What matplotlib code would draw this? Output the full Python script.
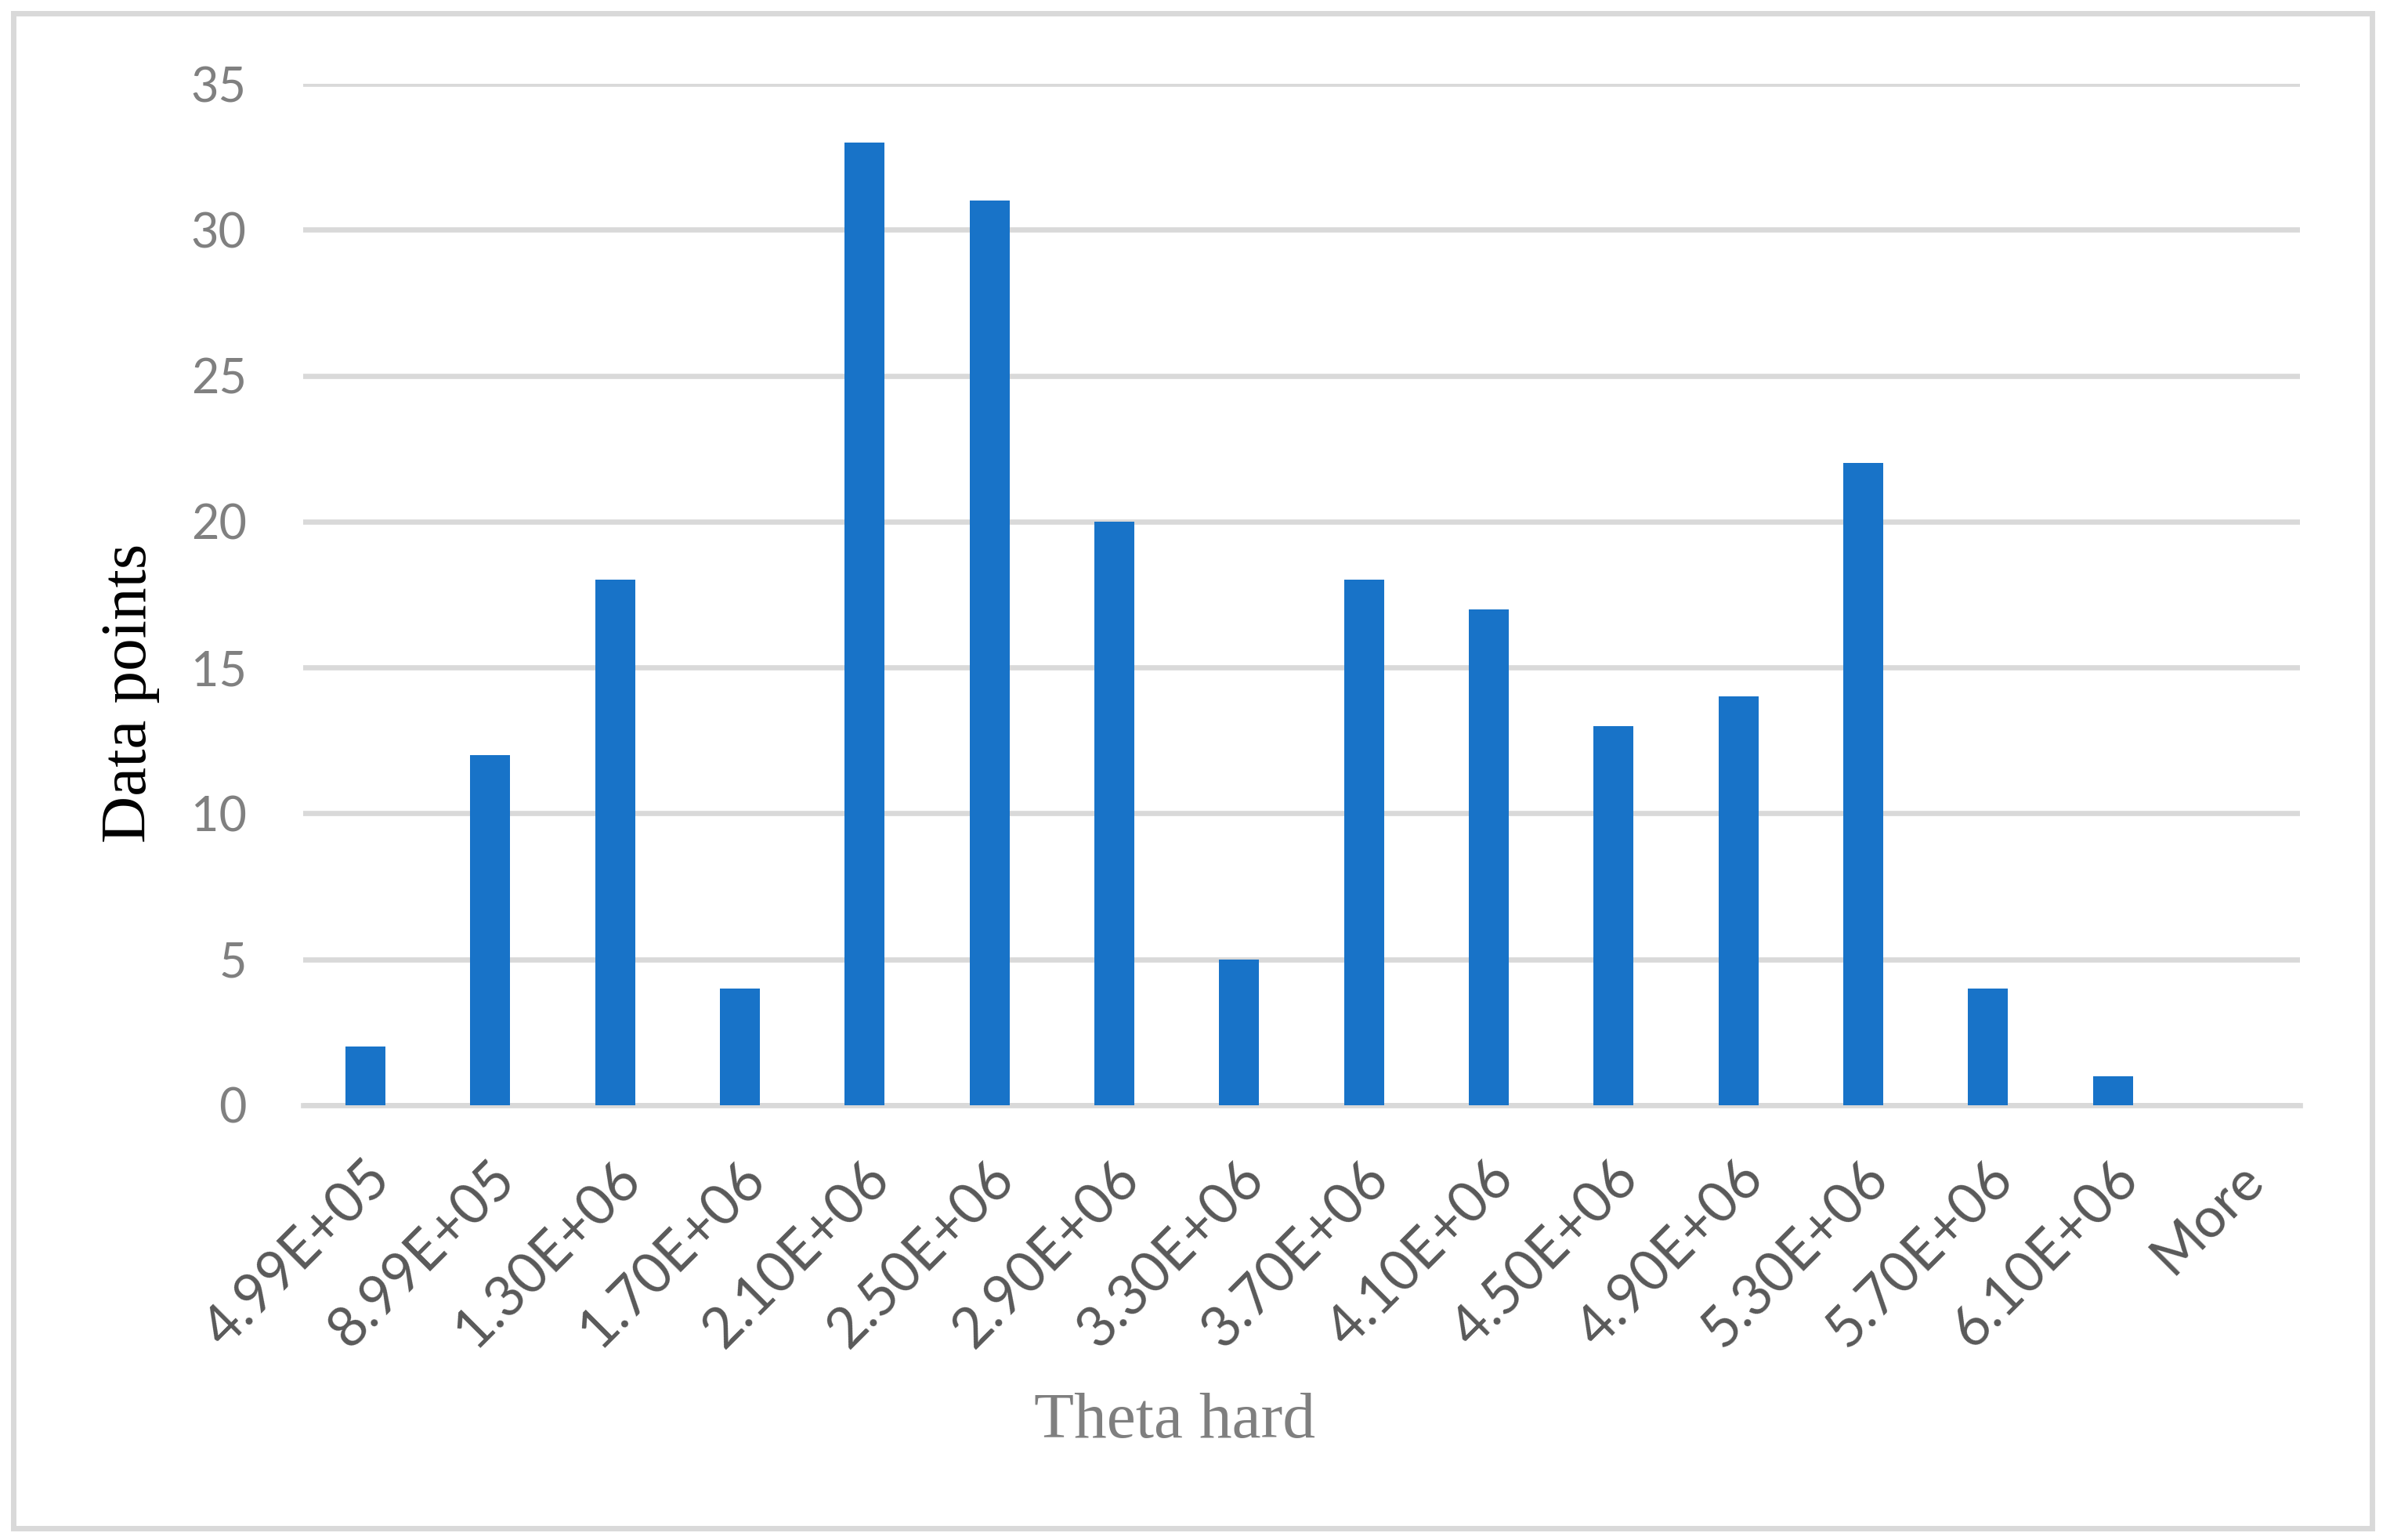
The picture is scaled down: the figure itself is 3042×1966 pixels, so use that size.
import matplotlib
matplotlib.use("Agg")
import matplotlib.pyplot as plt
from matplotlib.patches import Rectangle
from matplotlib.transforms import ScaledTranslation
import numpy as np

categories = ["4.99E+05", "8.99E+05", "1.30E+06", "1.70E+06", "2.10E+06", "2.50E+06",
              "2.90E+06", "3.30E+06", "3.70E+06", "4.10E+06", "4.50E+06", "4.90E+06",
              "5.30E+06", "5.70E+06", "6.10E+06", "More"]
counts = [2, 12, 18, 4, 33, 31, 20, 5, 18, 17, 13, 14, 22, 4, 1, 0]
yticks = [0, 5, 10, 15, 20, 25, 30, 35]

W, H = 3042, 1966
fig = plt.figure(figsize=(W / 100, H / 100), dpi=100)
fig.patch.set_facecolor("white")

left, right, top, bottom = 387, 2936, 107, 1411
ax = fig.add_axes([left / W, 1 - bottom / H, (right - left) / W, (bottom - top) / H])

x = np.arange(len(categories))
ax.bar(x, counts, width=0.32, color="#1873C8", zorder=3)
ax.set_xlim(-0.5, len(categories) - 0.5)
ax.set_ylim(0, 35)
ax.set_yticks(yticks)
ax.grid(axis="y", color="#D9D9D9", linewidth=4.8, zorder=0)
ax.set_axisbelow(True)
for s in ["top", "right", "left"]:
    ax.spines[s].set_visible(False)
ax.spines["bottom"].set_color("#D9D9D9")
ax.spines["bottom"].set_linewidth(4.8)
ax.spines["bottom"].set_zorder(1)

ax.tick_params(axis="y", length=0, pad=52, labelsize=44, labelcolor="#808080")
ax.tick_params(axis="x", length=0, pad=60, labelsize=51, labelcolor="#595959")
for lab in ax.get_yticklabels():
    lab.set_fontfamily("Lato")

ax.set_xticks(x)
ax.set_xticklabels(categories, rotation=45, ha="right", va="center",
                   rotation_mode="anchor", fontfamily="Lato")
off = ScaledTranslation(0.21, 0, fig.dpi_scale_trans)
for lab in ax.get_xticklabels():
    lab.set_transform(lab.get_transform() + off)

fig.text(166 / W, 1 - 885 / H, "Data points", rotation=90, ha="center", va="center",
         fontsize=60, fontfamily="Liberation Serif", color="black")
fig.text(1500 / W, 1 - 1835 / H, "Theta hard", ha="center", va="baseline",
         fontsize=60, fontfamily="Liberation Serif", color="#7F7F7F")

fig.patches.append(Rectangle((17 / W, 1 - 1951 / H), (3028 - 17) / W, (1951 - 17) / H,
                             transform=fig.transFigure, fill=False,
                             edgecolor="#D9D9D9", linewidth=5))

fig.savefig("out.png", dpi=100, facecolor="white")
